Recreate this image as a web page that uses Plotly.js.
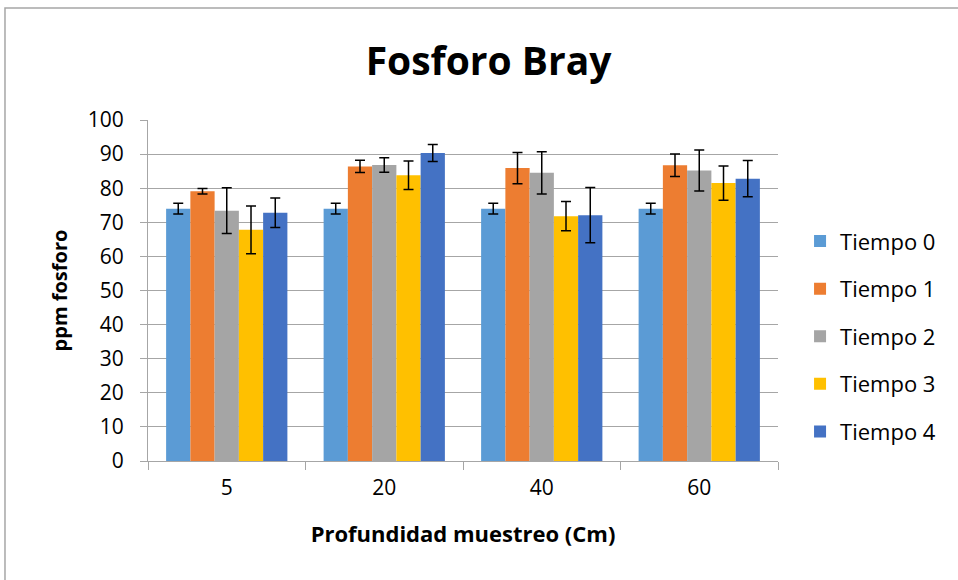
<!DOCTYPE html>
<html>
<head>
<meta charset="utf-8">
<script src="https://cdn.plot.ly/plotly-3.0.1.min.js"></script>
<style>
html,body{margin:0;padding:0;background:#fff;}
#chart{width:958px;height:580px;}
</style>
</head>
<body>
<div id="chart"></div>
<script>
const categories = ["5", "20", "40", "60"];
const seriesNames = ["Tiempo 0", "Tiempo 1", "Tiempo 2", "Tiempo 3", "Tiempo 4"];
const tiempo0 = [74.0, 74.0, 74.0, 74.0];
const tiempo1 = [79.1, 86.4, 85.9, 86.7];
const tiempo2 = [73.4, 86.8, 84.5, 85.2];
const tiempo3 = [67.8, 83.8, 71.8, 81.5];
const tiempo4 = [72.8, 90.3, 72.1, 82.8];
const err0 = [1.6, 1.6, 1.6, 1.6];
const err1 = [0.8, 1.8, 4.6, 3.3];
const err2 = [6.7, 2.1, 6.2, 6.0];
const err3 = [7.0, 4.2, 4.3, 5.0];
const err4 = [4.3, 2.5, 8.1, 5.3];
const colors = ["#5B9BD5", "#ED7D31", "#A5A5A5", "#FFC000", "#4472C4"];

const values = [tiempo0, tiempo1, tiempo2, tiempo3, tiempo4];
const errors = [err0, err1, err2, err3, err4];

const font = "'Open Sans', 'Liberation Sans', sans-serif";

const traces = seriesNames.map((name, i) => ({
  type: "bar",
  name: name,
  legendgroup: name,
  x: categories,
  y: values[i],
  marker: {color: colors[i]},
  error_y: {type: "data", array: errors[i], visible: true, color: "#000", thickness: 1.5, width: 5}
}));

const layout = {
  width: 958, height: 580,
  margin: {l: 148, r: 180, t: 120, b: 119},
  paper_bgcolor: "#fff", plot_bgcolor: "#fff",
  barmode: "group",
  bargap: 0.23, bargroupgap: 0,
  title: {text: "<b>Fosforo Bray</b>", font: {family: font, size: 39, color: "#000"}, x: 0.51, xanchor: "center", y: 0.895, yanchor: "middle"},
  xaxis: {
    type: "category",
    tickson: "boundaries",
    ticks: "outside", ticklen: 8, tickcolor: "#a6a6a6", tickwidth: 1,
    showline: true, linecolor: "#a6a6a6", linewidth: 1,
    showgrid: false,
    ticklabelstandoff: 8,
    tickfont: {family: font, size: 21, color: "#000"},
    title: {text: "<b>Profundidad muestreo (Cm)</b>", font: {family: font, size: 22, color: "#000"}, standoff: 26}
  },
  yaxis: {
    range: [0, 100], dtick: 10,
    ticks: "outside", ticklen: 7, tickcolor: "#a6a6a6",
    showline: true, linecolor: "#a6a6a6", linewidth: 1,
    gridcolor: "#a6a6a6", gridwidth: 1,
    zeroline: false,
    ticklabelstandoff: 12,
    tickfont: {family: font, size: 21, color: "#000"},
    title: {text: "<b>ppm fosforo</b>", font: {family: font, size: 20, color: "#000"}, standoff: 14}
  },
  legend: {
    x: 1.035, xanchor: "left", y: 0.706, yanchor: "top",
    font: {family: font, size: 22, color: "#000"},
    traceorder: "grouped", tracegroupgap: 16,
    itemwidth: 30
  },
  shapes: [
    {type: "path", xref: "paper", yref: "paper",
     path: "M -0.227 -0.4 L -0.227 1.3284 L 1.3 1.3284",
     line: {color: "#a6a6a6", width: 1.5}}
  ]
};

Plotly.newPlot("chart", traces, layout, {displayModeBar: false, staticPlot: true});
</script>
</body>
</html>
